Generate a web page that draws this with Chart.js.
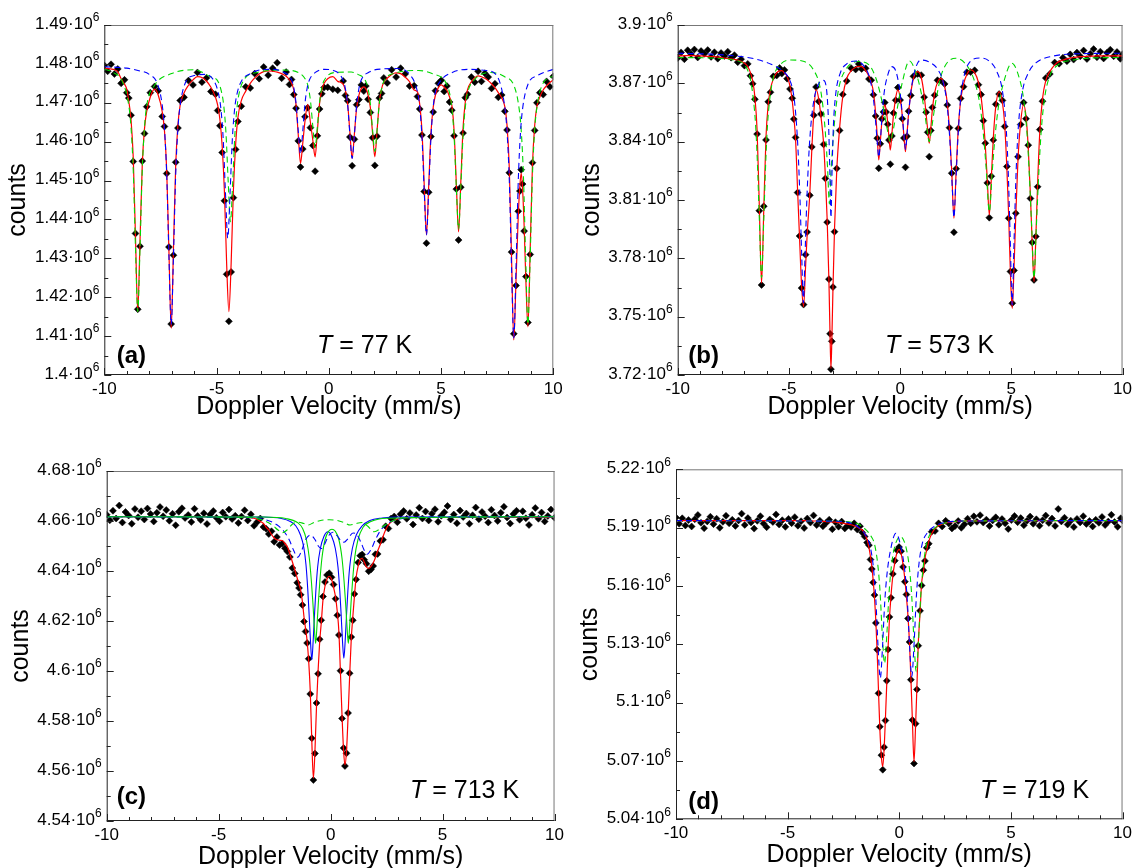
<!DOCTYPE html>
<html>
<head>
<meta charset="utf-8">
<script src="https://cdn.jsdelivr.net/npm/chart.js@4"></script>
<style>
  body { margin: 0; background: #fff; }
  canvas { position: absolute; }
</style>
</head>
<body>
<canvas id="ca" width="568" height="434" style="left:0;top:0"></canvas>
<canvas id="cb" width="568" height="434" style="left:568px;top:0"></canvas>
<canvas id="cc" width="568" height="434" style="left:0;top:434px"></canvas>
<canvas id="cd" width="568" height="434" style="left:568px;top:434px"></canvas>
<script>
// all counts in units of 10^3
// spectrum rows: [velocity mm/s, measured counts, total fit]
const specA = [
  [-10.0,1479.6,1478.9],[-9.85,1478.1,1478.8],[-9.7,1479.9,1478.7],[-9.55,1477.4,1478.5],[-9.4,1478.7,1478.0],[-9.25,1475.0,1476.2],[-9.1,1475.9,1474.8],[-9.0,1472.6,1473.5],
  [-8.91,1471.2,1470.4],[-8.81,1466.8,1465.7],[-8.71,1454.9,1455.8],[-8.61,1436.4,1435.3],[-8.51,1416.9,1416.3],[-8.41,1433.1,1434.4],[-8.31,1455.0,1453.9],[-8.21,1462.1,1463.3],[-8.11,1469.0,1467.8],[-7.95,1472.6,1471.5],[-7.76,1474.2,1473.5],[-7.6,1473.1,1472.0],
  [-7.42,1466.5,1467.7],[-7.32,1463.9,1462.8],[-7.22,1451.8,1452.6],[-7.12,1432.9,1431.6],[-7.02,1413.1,1412.0],[-6.92,1430.8,1432.2],[-6.82,1454.7,1453.9],[-6.72,1463.5,1464.4],[-6.62,1470.6,1469.4],[-6.45,1471.4,1472.5],[-6.25,1475.7,1474.5],[-6.05,1474.6,1475.9],[-5.85,1477.8,1476.7],[-5.65,1475.3,1476.5],[-5.45,1476.4,1475.6],[-5.25,1472.9,1474.0],[-5.05,1472.2,1471.5],
  [-4.95,1468.0,1469.4],[-4.85,1464.1,1465.7],[-4.75,1457.2,1458.9],[-4.65,1444.8,1447.2],[-4.55,1425.9,1428.6],[-4.45,1413.8,1416.3],[-4.35,1426.5,1428.7],[-4.25,1445.6,1447.4],[-4.15,1458.0,1459.2],[-4.05,1465.2,1466.1],[-3.9,1469.1,1470.5],[-3.7,1474.1,1473.0],[-3.5,1473.8,1475.0],[-3.3,1477.5,1476.4],[-3.1,1476.2,1477.4],[-2.9,1479.2,1478.0],[-2.7,1477.1,1478.2],[-2.5,1478.9,1478.1],[-2.3,1480.3,1477.9],[-2.1,1476.3,1477.5],[-1.9,1477.9,1476.8],[-1.75,1474.7,1475.9],[-1.66,1476.0,1475.1],
  [-1.56,1472.1,1473.3],[-1.46,1468.6,1469.5],[-1.36,1460.2,1461.7],[-1.26,1453.5,1454.4],[-1.16,1458.1,1459.6],[-1.06,1466.4,1465.3],[-0.94,1468.7,1469.6],[-0.82,1463.6,1465.0],[-0.71,1459.0,1460.3],[-0.61,1452.4,1456.1],[-0.51,1461.5,1462.7],[-0.41,1468.4,1469.9],[-0.31,1472.3,1473.3],[-0.21,1473.9,1475.0],[-0.05,1474.0,1476.2],[0.18,1473.5,1476.7],[0.4,1473.2,1475.5],
  [0.64,1475.6,1474.8],[0.74,1471.9,1473.1],[0.84,1470.5,1469.7],[0.94,1461.2,1462.4],[1.04,1453.8,1455.7],[1.14,1460.6,1462.0],[1.24,1469.5,1468.7],[1.34,1470.8,1471.9],[1.45,1474.6,1473.7],[1.56,1473.0,1474.1],[1.65,1474.3,1473.6],
  [1.75,1470.9,1472.0],[1.85,1467.5,1468.8],[1.95,1461.0,1462.2],[2.05,1453.9,1456.1],[2.15,1461.4,1462.8],[2.25,1471.2,1470.1],[2.35,1472.4,1473.6],[2.45,1476.4,1475.3],[2.6,1475.1,1476.3],[2.8,1478.5,1477.3],[3.0,1476.6,1477.7],[3.2,1478.9,1477.5],[3.4,1477.4,1476.6],[3.6,1474.3,1475.4],[3.8,1474.4,1473.3],
  [3.95,1471.6,1472.8],[4.05,1468.4,1469.6],[4.15,1461.7,1462.9],[4.25,1447.2,1448.9],[4.35,1433.9,1436.0],[4.45,1447.0,1448.6],[4.55,1461.3,1462.2],[4.65,1467.6,1468.8],[4.75,1473.1,1472.0],[4.88,1475.0,1473.9],[5.01,1475.8,1474.6],[5.14,1472.9,1474.0],[5.26,1474.3,1473.2],
  [5.38,1470.2,1471.5],[5.48,1468.1,1469.4],[5.58,1461.5,1462.8],[5.68,1447.8,1449.3],[5.78,1434.7,1436.8],[5.88,1448.3,1449.6],[5.98,1462.2,1463.5],[6.08,1471.3,1470.2],[6.18,1472.2,1473.4],[6.35,1476.6,1475.4],[6.5,1475.3,1476.4],[6.65,1478.1,1476.9],[6.8,1475.5,1476.7],[6.95,1477.6,1476.3],[7.1,1476.6,1475.7],[7.25,1473.7,1474.9],[7.4,1474.9,1473.9],[7.55,1471.4,1472.6],[7.7,1472.0,1471.3],
  [7.84,1467.8,1469.0],[7.94,1463.0,1464.2],[8.04,1452.0,1453.2],[8.14,1431.6,1430.3],[8.24,1410.6,1409.0],[8.34,1423.0,1424.5],[8.44,1442.1,1441.0],[8.51,1447.3,1448.5],[8.57,1452.8,1451.9],[8.63,1449.1,1448.0],[8.70,1437.0,1438.5],[8.78,1425.3,1424.0],[8.87,1413.5,1412.4],[8.97,1431.0,1432.3],[9.07,1454.6,1453.7],[9.17,1462.9,1464.1],[9.27,1470.0,1469.1],[9.4,1472.6,1471.5],[9.55,1472.1,1473.3],[9.7,1475.5,1474.4],[9.85,1474.1,1475.2],[10.0,1476.8,1475.9]
];
const sub1A = [
  [-10,1479.3],[-9,1478.9],[-8.5,1478.3],[-8,1477.3],[-7.62,1474.7],[-7.42,1469.4],[-7.32,1463.4],[-7.22,1451.5],[-7.12,1430.2],[-7.02,1413.0],[-6.92,1430.2],[-6.82,1451.5],[-6.72,1463.4],[-6.62,1469.4],[-6.42,1474.7],[-6,1477.0],[-5.5,1477.3],
  [-5.1,1475.5],[-4.9,1472.0],[-4.8,1468.1],[-4.7,1460.3],[-4.6,1446.5],[-4.5,1435.2],[-4.4,1446.5],[-4.3,1460.3],[-4.2,1468.1],[-4.1,1472.0],[-3.9,1475.5],[-3.5,1477.5],[-3,1478.5],[-2.5,1478.6],[-2,1477.8],
  [-1.66,1475.9],[-1.56,1473.9],[-1.46,1469.9],[-1.36,1462.7],[-1.26,1456.8],[-1.16,1462.7],[-1.06,1469.9],[-0.96,1473.9],[-0.86,1475.9],[-0.6,1477.8],[-0.2,1478.6],[0.2,1478.3],
  [0.64,1475.8],[0.74,1473.6],[0.84,1469.4],[0.94,1461.8],[1.04,1455.7],[1.14,1461.8],[1.24,1469.4],[1.34,1473.6],[1.44,1475.8],[1.8,1477.9],[2.4,1478.7],[3,1478.8],[3.6,1477.3],
  [3.95,1472.8],[4.05,1468.9],[4.15,1461.1],[4.25,1447.3],[4.35,1436.0],[4.45,1447.3],[4.55,1461.1],[4.65,1468.9],[4.75,1472.8],[5,1475.8],[5.5,1477.8],[6.2,1478.6],[7,1478.3],[7.5,1476.8],
  [7.84,1468.8],[7.94,1462.5],[8.04,1450.0],[8.14,1427.6],[8.24,1409.5],[8.34,1427.6],[8.44,1450.0],[8.54,1462.5],[8.64,1468.8],[8.87,1474.7],[9.3,1477.0],[10,1478.6]
];
const sub2A = [
  [-10,1478.7],[-9.6,1477.8],[-9.2,1475.5],[-8.91,1469.3],[-8.81,1463.7],[-8.71,1452.5],[-8.61,1432.5],[-8.51,1416.3],[-8.41,1432.5],[-8.31,1452.5],[-8.21,1463.7],[-8.11,1469.3],[-7.76,1474.5],[-7,1477.5],[-6,1478.5],
  [-5.2,1476.5],[-4.98,1475.9],[-4.78,1472.8],[-4.68,1469.3],[-4.58,1462.2],[-4.48,1449.6],[-4.38,1439.4],[-4.28,1449.6],[-4.18,1462.2],[-4.08,1469.3],[-3.98,1472.8],[-3.78,1475.9],[-3.2,1477.8],[-2,1478.4],
  [-1.3,1477.6],[-1.01,1475.7],[-0.91,1473.9],[-0.81,1470.2],[-0.71,1463.8],[-0.61,1458.5],[-0.51,1463.8],[-0.41,1470.2],[-0.31,1473.9],[-0.21,1475.7],[0.3,1477.8],[1,1477.9],
  [1.3,1477.3],[1.65,1475.5],[1.75,1473.6],[1.85,1469.8],[1.95,1463.0],[2.05,1457.5],[2.15,1463.0],[2.25,1469.8],[2.35,1473.6],[2.45,1475.5],[3,1477.7],[4,1478.3],
  [4.6,1477.5],[5.18,1475.5],[5.38,1472.5],[5.48,1468.8],[5.58,1461.4],[5.68,1448.2],[5.78,1437.5],[5.88,1448.2],[5.98,1461.4],[6.08,1468.8],[6.18,1472.5],[6.5,1476.0],[7.2,1477.8],
  [7.8,1476.8],[8.27,1474.1],[8.47,1468.8],[8.57,1463.0],[8.67,1451.1],[8.77,1430.1],[8.87,1413.0],[8.97,1430.1],[9.07,1451.1],[9.17,1463.0],[9.27,1468.8],[9.47,1474.1],[10,1477.0]
];

const specB = [
  [-10.0,3883.0,3884.1],[-9.85,3885.9,3884.1],[-9.7,3882.4,3884.2],[-9.55,3887.0,3884.2],[-9.4,3885.1,3884.2],[-9.25,3887.4,3884.2],[-9.1,3883.3,3884.1],[-8.95,3886.6,3884.1],[-8.8,3885.2,3884.0],[-8.65,3887.1,3883.9],[-8.5,3883.6,3883.8],[-8.35,3886.0,3883.7],[-8.2,3882.7,3883.5],[-8.05,3885.6,3883.3],[-7.9,3884.1,3883.0],[-7.75,3886.3,3882.8],[-7.6,3883.2,3882.6],[-7.45,3884.5,3882.3],[-7.3,3880.9,3882.0],[-7.15,3882.4,3881.3],[-7.0,3879.1,3880.4],[-6.85,3880.0,3878.6],[-6.73,3873.9,3875.5],[-6.63,3869.8,3871.4],
  [-6.53,3861.8,3863.0],[-6.43,3843.9,3845.7],[-6.33,3804.5,3806.7],[-6.23,3766.3,3767.2],[-6.13,3806.8,3805.1],[-6.03,3840.9,3842.4],[-5.93,3860.5,3859.2],[-5.83,3865.4,3867.0],[-5.7,3873.6,3872.3],[-5.55,3874.0,3875.4],[-5.42,3877.9,3876.4],[-5.32,3875.0,3876.5],[-5.2,3876.9,3875.3],[-5.08,3872.4,3873.5],[-4.95,3867.1,3868.5],
  [-4.85,3862.3,3861.0],[-4.78,3851.6,3853.0],[-4.70,3842.2,3841.0],[-4.61,3813.8,3815.0],[-4.52,3791.5,3790.0],[-4.43,3764.7,3766.0],[-4.34,3756.2,3755.1],[-4.25,3781.9,3776.0],[-4.18,3793.5,3792.0],[-4.06,3812.4,3813.5],[-3.97,3837.3,3836.0],[-3.88,3853.6,3855.0],[-3.78,3868.1,3866.9],[-3.66,3860.7,3862.0],[-3.56,3854.2,3853.0],
  [-3.44,3838.6,3839.0],[-3.36,3821.1,3822.0],[-3.28,3798.6,3800.0],[-3.2,3769.3,3768.0],[-3.15,3741.2,3740.0],[-3.11,3723.0,3723.4],[-3.07,3737.3,3738.0],[-3.02,3765.2,3764.0],[-2.95,3793.7,3795.0],[-2.85,3826.2,3825.0],[-2.72,3845.8,3847.0],[-2.58,3864.3,3863.0],[-2.4,3871.2,3872.5],[-2.2,3877.8,3876.5],[-2.0,3877.1,3878.3],[-1.86,3880.0,3878.7],[-1.73,3877.4,3878.6],[-1.55,3877.7,3876.5],
  [-1.4,3872.2,3873.5],[-1.3,3871.6,3870.5],[-1.2,3864.1,3865.5],[-1.1,3853.2,3854.5],[-1.03,3841.8,3843.0],[-0.96,3826.3,3830.6],[-0.89,3838.9,3840.0],[-0.82,3851.7,3850.5],[-0.75,3855.3,3856.5],[-0.69,3860.1,3858.9],[-0.63,3855.2,3856.5],[-0.56,3848.9,3850.0],[-0.50,3840.8,3842.0],[-0.44,3828.4,3835.7],[-0.37,3842.9,3844.0],[-0.30,3854.7,3853.5],[-0.20,3861.3,3862.5],[-0.10,3867.8,3866.6],
  [0.0,3861.4,3862.5],[0.1,3851.8,3853.0],[0.17,3841.9,3843.0],[0.24,3826.8,3834.9],[0.31,3842.8,3844.0],[0.38,3855.7,3854.5],[0.48,3863.8,3865.0],[0.6,3873.6,3872.5],[0.79,3874.8,3876.0],[0.95,3874.2,3873.0],[1.08,3862.9,3864.0],[1.17,3855.1,3854.0],[1.24,3844.8,3846.0],[1.31,3832.3,3839.2],[1.38,3845.8,3847.0],[1.45,3857.6,3856.5],[1.55,3863.9,3865.0],[1.68,3871.6,3870.5],[1.83,3871.4,3872.6],
  [2.0,3869.7,3868.5],[2.12,3858.8,3860.0],[2.22,3847.2,3846.0],[2.32,3823.8,3825.0],[2.42,3793.4,3800.6],[2.52,3826.1,3825.0],[2.62,3846.8,3848.0],[2.72,3862.2,3861.0],[2.85,3868.3,3869.5],[3.0,3875.7,3874.5],[3.17,3875.8,3876.9],[3.35,3876.7,3875.5],[3.52,3869.3,3870.5],
  [3.64,3864.2,3863.0],[3.74,3850.8,3852.0],[3.83,3839.2,3838.0],[3.92,3818.8,3820.0],[4.01,3800.9,3802.3],[4.1,3822.2,3821.0],[4.19,3840.8,3842.0],[4.3,3859.2,3858.0],[4.45,3864.5,3865.7],[4.6,3861.2,3860.0],[4.7,3847.8,3849.0],[4.8,3827.2,3826.0],[4.88,3800.6,3802.0],[4.96,3773.2,3772.0],[5.04,3756.9,3754.3],[5.12,3773.8,3775.0],[5.2,3803.2,3802.0],[5.3,3832.2,3831.0],[5.42,3848.8,3850.0],[5.55,3860.1,3858.9],
  [5.66,3851.8,3853.0],[5.76,3838.2,3837.0],[5.86,3810.8,3812.0],[5.94,3788.2,3787.0],[6.02,3768.9,3768.0],[6.1,3791.2,3790.0],[6.18,3816.8,3818.0],[6.28,3846.2,3845.0],[6.4,3860.8,3862.0],[6.55,3872.7,3871.5],[6.73,3874.8,3876.0],[6.95,3880.7,3879.5],[7.15,3880.1,3881.3],[7.32,3883.2,3882.0],[7.5,3881.4,3882.6],
  [7.65,3884.9,3883.0],[7.8,3882.2,3883.3],[7.95,3885.8,3883.5],[8.1,3883.9,3883.7],[8.25,3886.9,3883.8],[8.4,3882.5,3883.9],[8.55,3885.2,3884.0],[8.7,3887.6,3884.0],[8.85,3883.4,3884.1],[9.0,3886.3,3884.1],[9.15,3882.8,3884.1],[9.3,3885.7,3884.1],[9.45,3887.3,3884.1],[9.6,3883.9,3884.1],[9.75,3886.1,3884.1],[9.9,3882.6,3884.1],[10.0,3885.0,3884.1]
];
const sub1B = [
  [-10,3885.5],[-8.5,3885.0],[-7.5,3884.2],[-6.5,3882.5],[-5.8,3879.8],[-5.3,3876.5],[-5.0,3872.5],[-4.8,3865],[-4.7,3855],[-4.6,3838],[-4.5,3810],[-4.42,3780],[-4.35,3757],[-4.28,3780],[-4.2,3808],[-4.1,3834],[-4.0,3850],[-3.85,3863],[-3.65,3870],[-3.45,3871.5],
  [-3.3,3866],[-3.22,3850],[-3.16,3825],[-3.11,3801],[-3.06,3825],[-3.0,3848],[-2.9,3864],[-2.7,3875],[-2.4,3880],[-2.0,3881.5],[-1.6,3878.5],[-1.35,3872],[-1.2,3862],[-1.1,3850],[-1.03,3840],[-0.96,3832],[-0.89,3840],[-0.82,3852],[-0.72,3865],[-0.55,3874.5],[-0.38,3878.6],
  [-0.2,3876.5],[-0.05,3869],[0.05,3860],[0.13,3849],[0.2,3840],[0.24,3836],[0.3,3842],[0.38,3854],[0.5,3867],[0.7,3878],[0.94,3882],[1.3,3881],[1.7,3877],[1.95,3870],[2.12,3858],[2.25,3838],[2.35,3815],[2.42,3801],[2.5,3818],[2.6,3842],[2.72,3862],[2.9,3875],[3.02,3879],
  [3.3,3882.5],[3.6,3883],[4.0,3881.5],[4.35,3876],[4.6,3866],[4.75,3850],[4.85,3828],[4.95,3790],[5.04,3756],[5.12,3788],[5.22,3826],[5.33,3850],[5.5,3866],[5.75,3875],[6.1,3880.5],[6.88,3884],[8.0,3885.2],[10,3885.5]
];
const sub2B = [
  [-10,3883.3],[-8.5,3883.0],[-7.5,3882.0],[-7.0,3879.5],[-6.75,3873],[-6.6,3862],[-6.5,3849],[-6.42,3830],[-6.33,3800],[-6.23,3770],[-6.13,3800],[-6.04,3830],[-5.96,3849],[-5.86,3862],[-5.7,3873],[-5.4,3879.5],[-4.9,3882],[-4.4,3881.5],
  [-3.9,3877],[-3.6,3868],[-3.45,3856],[-3.35,3843],[-3.26,3826],[-3.18,3808],[-3.1,3826],[-3.0,3843],[-2.9,3856],[-2.75,3868],[-2.45,3877],[-1.9,3881.2],[-1.4,3879.5],[-1.1,3873],[-0.9,3865],[-0.75,3857],[-0.62,3849],[-0.52,3843],[-0.44,3840],
  [-0.36,3843],[-0.26,3849],[-0.13,3857],[0.05,3868],[0.42,3881.5],[0.75,3874],[0.95,3865],[1.1,3855],[1.2,3847],[1.31,3840],[1.42,3847],[1.52,3855],[1.67,3865],[1.9,3876],[2.5,3882.9],
  [3.1,3877.5],[3.4,3869],[3.6,3858],[3.75,3843],[3.87,3826],[4.01,3804],[4.15,3826],[4.27,3843],[4.42,3858],[4.62,3869],[5.02,3880.3],[5.35,3873],[5.55,3862],[5.7,3845],[5.8,3825],[5.92,3795],[6.02,3770],
  [6.12,3795],[6.24,3825],[6.34,3845],[6.49,3862],[6.7,3873],[7.1,3879.5],[7.8,3882],[8.5,3883],[10,3883.3]
];

const specC = [
  [-10,4662.5,4661.7],[-9.86,4660.3,4661.7],[-9.72,4664.1,4661.7],[-9.58,4661.0,4661.7],[-9.44,4666.2,4661.7],[-9.3,4659.4,4661.7],[-9.16,4663.6,4661.7],[-9.02,4662.2,4661.7],[-8.88,4658.9,4661.7],[-8.74,4664.8,4661.7],[-8.6,4661.5,4661.7],[-8.46,4663.9,4661.7],[-8.32,4660.6,4661.7],[-8.18,4665.0,4661.7],[-8.04,4662.8,4661.7],[-7.9,4659.8,4661.7],[-7.76,4663.3,4661.7],
  [-7.62,4665.6,4661.7],[-7.48,4661.9,4661.7],[-7.34,4664.4,4661.7],[-7.2,4660.1,4661.7],[-7.06,4662.9,4661.7],[-6.92,4658.3,4661.7],[-6.78,4663.7,4661.7],[-6.64,4665.1,4661.7],[-6.5,4661.2,4661.7],[-6.36,4662.4,4661.7],[-6.22,4659.6,4661.7],[-6.08,4664.9,4661.7],[-5.94,4662.0,4661.7],[-5.8,4660.4,4661.7],[-5.66,4663.1,4661.7],[-5.52,4658.8,4661.7],
  [-5.38,4662.6,4661.7],[-5.24,4664.0,4661.7],[-5.1,4661.3,4661.7],[-4.96,4659.9,4661.7],[-4.82,4663.4,4661.7],[-4.68,4661.7,4661.7],[-4.54,4664.6,4661.7],[-4.4,4660.8,4661.7],[-4.26,4662.1,4661.7],[-4.12,4659.2,4661.7],[-3.98,4661.8,4661.7],[-3.84,4664.3,4661.6],[-3.7,4660.2,4661.5],[-3.56,4662.7,4661.3],[-3.42,4658.1,4661.1],[-3.28,4659.6,4660.6],
  [-3.14,4661.0,4659.8],[-3.0,4657.6,4659.0],[-2.88,4656.9,4657.5],[-2.76,4654.8,4656.4],[-2.64,4655.9,4654.6],[-2.52,4651.7,4653.2],[-2.4,4653.6,4652.5],[-2.28,4650.4,4652.3],[-2.16,4651.0,4652.2],[-2.04,4649.1,4651.0],[-1.93,4647.8,4649.7],[-1.82,4645.6,4646.8],[-1.71,4641.2,4643.7],[-1.6,4639.0,4640.5],[-1.49,4635.3,4637.1],[-1.41,4633.2,4634.8],[-1.34,4630.5,4632.4],
  [-1.26,4626.4,4627.8],[-1.19,4619.8,4621.7],[-1.12,4615.8,4617.0],[-1.05,4611.2,4612.0],[-0.98,4604.9,4604.0],[-0.91,4590.8,4592.0],[-0.84,4573.1,4572.0],[-0.77,4556.4,4557.1],[-0.70,4567.0,4568.0],[-0.63,4587.2,4586.0],[-0.56,4598.9,4600.0],[-0.49,4612.7,4611.5],[-0.42,4620.3,4619.0],[-0.34,4629.8,4628.5],[-0.25,4635.6,4634.0],[-0.16,4638.4,4636.8],[-0.06,4639.1,4637.9],
  [0.04,4637.5,4636.8],[0.13,4634.6,4633.5],[0.22,4628.9,4629.5],[0.30,4622.3,4623.5],[0.37,4614.4,4615.5],[0.44,4600.1,4599.0],[0.51,4581.0,4582.0],[0.58,4569.2,4568.0],[0.64,4562.0,4562.4],[0.71,4567.1,4568.0],[0.78,4583.2,4582.0],[0.85,4599.1,4598.0],[0.92,4613.6,4612.5],[0.99,4620.3,4621.5],[1.06,4630.8,4629.5],[1.14,4636.6,4637.5],[1.23,4643.4,4642.0],
  [1.32,4646.1,4644.6],[1.41,4646.6,4645.1],[1.5,4644.5,4643.6],[1.6,4642.9,4641.6],[1.7,4639.9,4641.1],[1.8,4640.6,4641.8],[1.9,4642.0,4643.2],[2.0,4646.7,4645.3],[2.1,4646.8,4648.0],[2.22,4652.0,4650.7],[2.34,4652.5,4653.8],[2.46,4657.9,4656.5],[2.58,4657.0,4658.4],[2.7,4661.0,4659.6],
  [2.84,4661.8,4660.3],[2.98,4659.5,4660.8],[3.12,4662.7,4661.1],[3.26,4664.0,4661.3],[3.4,4660.9,4661.4],[3.54,4663.2,4661.4],[3.68,4658.6,4661.4],[3.82,4662.4,4661.4],[3.96,4665.3,4661.4],[4.1,4661.0,4661.4],[4.24,4663.8,4661.4],[4.38,4660.2,4661.4],[4.52,4662.9,4661.4],[4.66,4664.7,4661.4],[4.8,4659.7,4661.4],[4.94,4662.1,4661.4],[5.08,4663.5,4661.4],
  [5.22,4666.0,4661.4],[5.36,4660.6,4661.4],[5.5,4662.6,4661.4],[5.64,4659.1,4661.4],[5.78,4664.2,4661.4],[5.92,4661.6,4661.4],[6.06,4663.0,4661.4],[6.2,4658.9,4661.4],[6.34,4662.3,4661.4],[6.48,4665.4,4661.4],[6.62,4660.7,4661.4],[6.76,4663.6,4661.4],[6.9,4661.9,4661.4],[7.04,4659.4,4661.4],[7.18,4664.5,4661.4],[7.32,4662.2,4661.4],
  [7.46,4660.0,4661.4],[7.6,4663.3,4661.4],[7.74,4665.7,4661.4],[7.88,4661.4,4661.4],[8.02,4659.0,4661.4],[8.16,4662.8,4661.4],[8.3,4664.1,4661.4],[8.44,4660.5,4661.4],[8.58,4663.9,4661.4],[8.72,4661.1,4661.4],[8.86,4658.4,4661.4],[9.0,4662.5,4661.4],[9.14,4665.2,4661.4],[9.28,4660.9,4661.4],[9.42,4663.4,4661.4],[9.56,4659.8,4661.4],[9.7,4662.0,4661.4],[9.84,4664.6,4661.4],[10,4661.3,4661.4]
];
const sub1C = [ // blue, solid
  [-10,4661.7],[-3,4661.6],[-2.2,4661.0],[-1.8,4659.8],[-1.55,4658.0],[-1.35,4654.5],[-1.2,4649.5],[-1.1,4642.5],[-1.02,4632.5],[-0.96,4622.5],[-0.9,4612.0],[-0.84,4604.4],[-0.78,4612.0],[-0.72,4622.5],[-0.66,4632.0],[-0.58,4641.5],[-0.46,4649.0],[-0.3,4653.8],[-0.12,4655.7],
  [0.05,4653.8],[0.21,4649.0],[0.33,4641.5],[0.41,4632.0],[0.47,4622.5],[0.53,4612.0],[0.59,4605.1],[0.65,4612.0],[0.71,4622.5],[0.77,4632.0],[0.85,4641.5],[0.97,4649.0],[1.15,4654.5],[1.4,4658.0],[1.75,4660.2],[2.3,4661.2],[3,4661.6],[10,4661.7]
];
const sub2C = [ // green, solid
  [-10,4661.7],[-3,4661.6],[-2,4661.0],[-1.5,4659.5],[-1.25,4657.0],[-1.08,4652.4],[-0.95,4645],[-0.86,4636],[-0.79,4627],[-0.73,4618],[-0.67,4611],[-0.61,4618],[-0.55,4627],[-0.48,4636],[-0.39,4645],[-0.25,4652.5],[-0.08,4656],[0.06,4656.7],
  [0.2,4656],[0.37,4652.5],[0.51,4645],[0.6,4636],[0.67,4627],[0.73,4618],[0.79,4611],[0.85,4618],[0.91,4627],[0.98,4636],[1.07,4645],[1.22,4652.5],[1.45,4657.5],[1.8,4659.8],[2.5,4661.1],[10,4661.7]
];
const sub3C = [ // blue, dashed
  [-10,4661.7],[-3.5,4661.3],[-2.8,4660.2],[-2.4,4658.5],[-2.1,4656.0],[-1.85,4652.5],[-1.65,4648.2],[-1.47,4645.5],[-1.3,4648.0],[-1.12,4652.5],[-0.9,4654.4],[-0.7,4652.6],[-0.55,4650.0],[-0.42,4649.0],[-0.28,4650.5],[-0.1,4654.0],[0.1,4655.5],
  [0.3,4654.0],[0.45,4652.2],[0.6,4651.5],[0.78,4653.0],[1.0,4655.2],[1.15,4654.8],[1.35,4651.5],[1.5,4648.3],[1.63,4646.7],[1.8,4648.5],[2.0,4652.5],[2.25,4656.5],[2.6,4659.3],[3.2,4661.0],[4,4661.5],[10,4661.7]
];
const sub4C = [ // green, dashed
  [-10,4661.7],[-3.6,4661.4],[-3.0,4660.2],[-2.6,4658.3],[-2.35,4656.4],[-2.15,4655.3],[-1.95,4656.4],[-1.7,4658.8],[-1.45,4659.5],[-1.2,4659.0],[-1.0,4658.4],[-0.75,4659.4],[-0.4,4660.3],[-0.05,4660.5],
  [0.3,4660.2],[0.62,4659.3],[0.87,4658.4],[1.1,4658.9],[1.4,4659.4],[1.65,4658.0],[1.95,4655.7],[2.2,4656.8],[2.5,4658.8],[2.9,4660.5],[3.6,4661.4],[10,4661.7]
];

const specD = [
  [-10,5195.2,5193.6],[-9.86,5192.0,5193.6],[-9.72,5194.8,5193.6],[-9.58,5191.1,5193.6],[-9.44,5193.9,5193.6],[-9.3,5190.6,5193.6],[-9.16,5194.3,5193.6],[-9.02,5196.5,5193.6],[-8.88,5192.5,5193.6],[-8.74,5189.7,5193.6],[-8.6,5193.2,5193.6],[-8.46,5195.6,5193.6],[-8.32,5191.8,5193.6],[-8.18,5194.6,5193.6],
  [-8.04,5189.9,5193.6],[-7.9,5193.0,5193.6],[-7.76,5196.1,5193.6],[-7.62,5192.2,5193.6],[-7.48,5194.0,5193.6],[-7.34,5190.9,5193.6],[-7.2,5193.7,5193.6],[-7.06,5197.2,5193.6],[-6.92,5191.4,5193.6],[-6.78,5194.9,5193.6],[-6.64,5192.7,5193.6],[-6.5,5189.5,5193.6],[-6.36,5193.5,5193.6],[-6.22,5195.9,5193.6],
  [-6.08,5192.1,5193.6],[-5.94,5190.2,5193.6],[-5.8,5194.2,5193.6],[-5.66,5192.9,5193.6],[-5.52,5196.8,5193.6],[-5.38,5191.6,5193.6],[-5.24,5193.8,5193.6],[-5.1,5190.4,5193.6],[-4.96,5194.5,5193.6],[-4.82,5192.3,5193.6],[-4.68,5195.4,5193.6],[-4.54,5191.0,5193.6],[-4.4,5193.3,5193.6],[-4.26,5189.8,5193.6],
  [-4.12,5194.7,5193.6],[-3.98,5192.6,5193.5],[-3.84,5196.3,5193.4],[-3.7,5191.3,5193.4],[-3.56,5193.6,5193.3],[-3.42,5190.7,5193.2],[-3.28,5192.4,5193.1],[-3.14,5194.1,5193.0],[-3.0,5189.2,5192.9],[-2.86,5192.8,5192.8],[-2.72,5190.5,5192.6],[-2.58,5193.1,5192.4],[-2.44,5189.6,5192.1],[-2.3,5191.2,5191.8],
  [-2.16,5190.3,5191.5],[-2.02,5192.2,5191.0],[-1.88,5189.0,5190.3],[-1.76,5190.7,5189.4],[-1.66,5187.5,5188.8],[-1.55,5185.4,5186.8],[-1.44,5182.3,5183.7],[-1.36,5181.0,5179.8],[-1.29,5173.6,5175.1],[-1.23,5168.7,5170.0],[-1.17,5161.8,5163.0],[-1.11,5155.3,5154.0],[-1.05,5141.0,5142.0],[-0.99,5127.2,5126.0],
  [-0.93,5104.8,5106.0],[-0.87,5087.6,5086.5],[-0.80,5073.0,5072.0],[-0.74,5065.5,5067.1],[-0.68,5077.1,5076.0],[-0.62,5090.8,5092.0],[-0.56,5111.2,5110.0],[-0.50,5127.3,5128.5],[-0.44,5144.1,5143.0],[-0.37,5153.9,5155.0],[-0.29,5166.2,5165.0],[-0.2,5173.0,5172.0],[-0.1,5178.4,5177.2],[-0.01,5180.0,5178.8],
  [0.08,5177.9,5176.8],[0.17,5169.8,5171.0],[0.25,5162.2,5163.5],[0.32,5155.6,5154.5],[0.39,5143.3,5144.5],[0.46,5131.2,5130.0],[0.52,5111.8,5113.0],[0.59,5091.1,5090.0],[0.66,5068.7,5069.6],[0.73,5089.2,5088.0],[0.79,5106.8,5108.0],[0.85,5129.3,5130.0],[0.93,5147.2,5146.0],[1.0,5160.2,5161.4],
  [1.08,5168.1,5167.0],[1.15,5172.9,5174.0],[1.23,5179.6,5178.5],[1.32,5181.7,5182.8],[1.45,5187.9,5186.8],[1.6,5188.3,5189.5],[1.76,5192.2,5191.0],[1.92,5190.6,5191.8],[2.08,5193.5,5192.4],
  [2.22,5192.1,5192.7],[2.36,5189.6,5192.9],[2.5,5190.8,5193.1],[2.64,5193.4,5193.2],[2.78,5189.9,5193.3],[2.92,5191.7,5193.4],[3.06,5194.6,5193.5],[3.2,5192.3,5193.5],[3.34,5195.8,5193.5],[3.48,5193.0,5193.5],[3.62,5196.4,5193.5],[3.76,5192.6,5193.5],[3.9,5194.1,5193.5],[4.04,5190.8,5193.6],
  [4.18,5193.7,5193.6],[4.32,5195.3,5193.6],[4.46,5191.5,5193.6],[4.6,5194.4,5193.6],[4.74,5192.2,5193.6],[4.88,5189.3,5193.6],[5.02,5193.9,5193.6],[5.16,5196.0,5193.6],[5.3,5192.8,5193.6],[5.44,5194.9,5193.6],[5.58,5191.2,5193.6],[5.72,5193.5,5193.6],[5.86,5195.7,5193.6],[6.0,5192.0,5193.6],
  [6.14,5194.3,5193.6],[6.28,5191.0,5193.6],[6.42,5193.8,5193.6],[6.56,5196.2,5193.6],[6.7,5192.4,5193.6],[6.84,5194.7,5193.6],[6.98,5190.9,5193.6],[7.12,5199.6,5193.6],[7.26,5193.2,5193.6],[7.4,5195.1,5193.6],[7.54,5191.6,5193.6],[7.68,5193.6,5193.6],[7.82,5190.3,5193.6],[7.96,5194.5,5193.6],
  [8.1,5192.7,5193.6],[8.24,5195.9,5193.6],[8.38,5191.9,5193.6],[8.52,5193.4,5193.6],[8.66,5190.6,5193.6],[8.8,5194.0,5193.6],[8.94,5192.5,5193.6],[9.08,5195.5,5193.6],[9.22,5191.3,5193.6],[9.36,5193.1,5193.6],[9.5,5196.6,5193.6],[9.64,5192.9,5193.6],[9.78,5190.4,5193.6],[9.92,5194.8,5193.6],[10,5193.7,5193.6]
];
const sub1D = [
  [-10,5193.6],[-3.0,5193.3],[-2.3,5192.7],[-1.8,5190.0],[-1.5,5186.0],[-1.3,5180.2],[-1.15,5168.5],[-1.05,5153.1],[-0.95,5128.7],[-0.85,5112.5],[-0.75,5128.7],[-0.65,5152.0],[-0.55,5166.0],[-0.4,5178.0],[-0.15,5187.1],
  [0.11,5178.0],[0.26,5166.5],[0.36,5152.5],[0.46,5129.5],[0.56,5113.4],[0.66,5129.5],[0.76,5153.5],[0.86,5169.0],[1.01,5180.8],[1.3,5188.0],[1.6,5190.8],[2.0,5192.5],[3.0,5193.4],[10,5193.6]
];
const sub2D = [
  [-10,5193.6],[-3.0,5193.3],[-2.0,5192.5],[-1.5,5189.0],[-1.26,5185.5],[-1.11,5181.5],[-0.96,5170.8],[-0.86,5156.9],[-0.76,5134.9],[-0.66,5120.2],[-0.56,5134.5],[-0.46,5156.0],[-0.36,5169.5],[-0.21,5180.0],[0.05,5185.4],
  [0.31,5179.5],[0.46,5168.5],[0.56,5154.5],[0.66,5131.5],[0.76,5115.9],[0.86,5131.5],[0.96,5154.8],[1.06,5168.5],[1.21,5181.0],[1.5,5188.5],[2.1,5192.5],[3.0,5193.4],[10,5193.6]
];

const velTicks = [-10, -5, 0, 5, 10];
const panelLabels = ['(a)', '(b)', '(c)', '(d)'];
const temps = ['77', '573', '713', '719'];

const FONT = '"Liberation Sans", Arial, Helvetica, sans-serif';
const RED = '#ff0000', BLUE = '#0000ff', GREEN = '#00d800';

const panels = [
  { id: 'ca', spec: specA, subs: [[sub2A, GREEN, true], [sub1A, BLUE, true]],
    yMin: 1400, yMax: 1490, yStep: 10, area: { l: 104.3, t: 25, r: 553.3, b: 375 },
    lab: [12.4, 12.5], temp: [212.7, 22.3], titleDy: 32 },
  { id: 'cb', spec: specB, subs: [[sub2B, GREEN, true], [sub1B, BLUE, true]],
    yMin: 3720, yMax: 3900, yStep: 30, area: { l: 109.7, t: 25, r: 558.7, b: 375 },
    lab: [10.6, 12.5], temp: [207.3, 22.3], titleDy: 32 },
  { id: 'cc', spec: specC, subs: [[sub1C, BLUE, false], [sub2C, GREEN, false], [sub3C, BLUE, true], [sub4C, GREEN, true]],
    yMin: 4540, yMax: 4680, yStep: 20, area: { l: 106.7, t: 37, r: 556, b: 387 },
    lab: [10, 16.8], temp: [303.3, 22.7], titleDy: 36 },
  { id: 'cd', spec: specD, subs: [[sub2D, GREEN, true], [sub1D, BLUE, true]],
    yMin: 5040, yMax: 5220, yStep: 30, area: { l: 108, t: 35.3, r: 557.3, b: 385.3 },
    lab: [12.3, 10.3], temp: [304, 21], titleDy: 36 }
];

function xy(rows, k) {
  return rows.map(r => ({ x: r[0], y: r[k] }));
}

function decor(p, idx) {
  return {
    id: 'decor' + idx,
    afterDatasetsDraw(chart) {
      const { ctx, chartArea: a, scales: { x, y } } = chart;
      ctx.save();
      ctx.lineWidth = 1;
      // frame: dark left/bottom, grey top/right
      ctx.strokeStyle = '#777';
      ctx.beginPath();
      ctx.moveTo(a.left, a.top + 0.5); ctx.lineTo(a.right, a.top + 0.5);
      ctx.moveTo(a.right - 0.5, a.top); ctx.lineTo(a.right - 0.5, a.bottom);
      ctx.stroke();
      ctx.strokeStyle = '#222';
      ctx.beginPath();
      ctx.moveTo(a.left + 0.5, a.top); ctx.lineTo(a.left + 0.5, a.bottom);
      ctx.moveTo(a.left, a.bottom - 0.5); ctx.lineTo(a.right, a.bottom - 0.5);
      // inward ticks
      for (let v = -10; v <= 10; v++) {
        const px = Math.round(x.getPixelForValue(v)) + 0.5;
        const len = v % 5 === 0 ? 7 : 4;
        ctx.moveTo(px, a.bottom); ctx.lineTo(px, a.bottom - len);
      }
      for (let v = p.yMin; v <= p.yMax + 1e-6; v += p.yStep / 2) {
        const py = Math.round(y.getPixelForValue(v)) + 0.5;
        const major = Math.round((v - p.yMin) / p.yStep * 2) % 2 === 0;
        ctx.moveTo(a.left, py); ctx.lineTo(a.left + (major ? 7 : 4), py);
      }
      ctx.stroke();

      ctx.fillStyle = '#000';
      // y tick labels "m·10" with a raised exponent
      ctx.textAlign = 'right';
      ctx.textBaseline = 'middle';
      y.ticks.forEach(t => {
        const py = y.getPixelForValue(t.value) - 1;
        ctx.font = '12px ' + FONT;
        const ew = ctx.measureText('6').width;
        ctx.fillText('6', a.left - 5, py - 6);
        ctx.font = '17px ' + FONT;
        ctx.fillText((+(t.value / 1000).toFixed(2)) + '·10', a.left - 5 - ew, py);
      });

      // axis titles
      ctx.font = '25px ' + FONT;
      ctx.textAlign = 'center';
      ctx.textBaseline = 'middle';
      ctx.fillText('Doppler Velocity (mm/s)', (a.left + a.right) / 2, a.bottom + p.titleDy);
      ctx.save();
      ctx.translate(a.left - 86, (a.top + a.bottom) / 2);
      ctx.rotate(-Math.PI / 2);
      ctx.fillText('counts', 0, 0);
      ctx.restore();

      // panel letter
      ctx.textAlign = 'left';
      ctx.textBaseline = 'alphabetic';
      ctx.font = 'bold 24px ' + FONT;
      ctx.fillText(panelLabels[idx], a.left + p.lab[0], a.bottom - p.lab[1]);

      // temperature
      const tx = a.left + p.temp[0], ty = a.bottom - p.temp[1];
      ctx.font = 'italic 25px ' + FONT;
      ctx.fillText('T', tx, ty);
      const w = ctx.measureText('T').width;
      ctx.font = '25px ' + FONT;
      ctx.fillText(' = ' + temps[idx] + ' K', tx + w, ty);
      ctx.restore();
    }
  };
}

panels.forEach((p, idx) => {
  const canvas = document.getElementById(p.id);
  const W = canvas.width, H = canvas.height;
  const datasets = [
    { data: xy(p.spec, 1), showLine: false, pointStyle: 'rectRot', pointRadius: 3.5,
      pointBackgroundColor: '#000', pointBorderColor: '#000', pointBorderWidth: 0.5, order: 10 },
    { data: xy(p.spec, 2), borderColor: RED, borderWidth: 1.2, pointRadius: 0,
      cubicInterpolationMode: 'monotone', order: 6 }
  ];
  p.subs.forEach(([rows, color, dashed], i) => {
    datasets.push({ data: xy(rows, 1), borderColor: color, borderWidth: 1.1,
      borderDash: dashed ? [6, 4] : [], pointRadius: 0,
      cubicInterpolationMode: 'monotone', order: 5 - i });
  });

  new Chart(canvas, {
    type: 'line',
    data: { datasets },
    options: {
      responsive: false,
      devicePixelRatio: 1,
      animation: false,
      events: [],
      layout: { padding: { top: p.area.t, right: W - p.area.r, left: 0, bottom: 0 } },
      plugins: { legend: { display: false }, tooltip: { enabled: false } },
      scales: {
        x: {
          type: 'linear', min: -10, max: 10,
          afterFit: s => { s.height = H - p.area.b; },
          afterBuildTicks: s => { s.ticks = velTicks.map(v => ({ value: v })); },
          grid: { display: false, drawTicks: false },
          border: { display: false },
          ticks: { color: '#000', padding: 4, maxRotation: 0, font: { family: FONT, size: 17 },
                   callback: v => String(v) }
        },
        y: {
          type: 'linear', min: p.yMin, max: p.yMax,
          afterFit: s => { s.width = p.area.l; },
          grid: { display: false, drawTicks: false },
          border: { display: false },
          ticks: { display: false, stepSize: p.yStep }
        }
      }
    },
    plugins: [decor(p, idx)]
  });
});
</script>
</body>
</html>
